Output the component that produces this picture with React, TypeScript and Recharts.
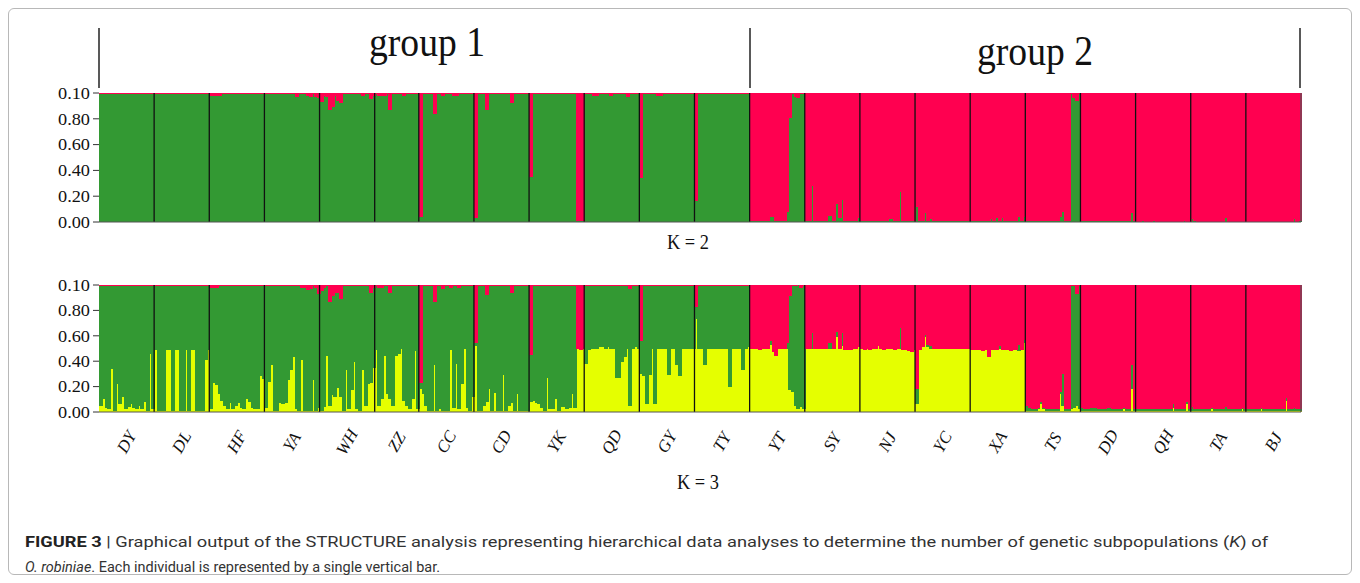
import React from "react";
import { BarChart, Bar, XAxis, YAxis, ReferenceLine } from "recharts";

// ─── DATA ──────────────────────────────────────────────────────────────────
const populations = [
  "DY", "DL", "HF", "YA", "WH", "ZZ", "CC", "CD", "YK", "QD", "GY",
  "TY", "YT", "SY", "NJ", "YC", "XA", "TS", "DD", "QH", "TA", "BJ",
];
const yTicks = [0, 0.2, 0.4, 0.6, 0.8, 1];
const yTickLabels = ["0.00", "0.20", "0.40", "0.60", "0.80", "0.10"];

// K = 2 : red share of each individual (green is the rest)
const k2Red: number[][] = [
  [0.01,0.01,0.01,0.01,0.01,0.01,0.01,0.01,0.01,0.01,0.01,0.01,0.01,0.01,0.01,0.01,0.01,0.01,0.01,0.01],
  [0.01,0.01,0.01,0.01,0.01,0.01,0.01,0.01,0.01,0.01,0.01,0.01,0.01,0.01,0.01,0.01,0.01,0.01,0.01,0.01],
  [0.02,0.02,0.02,0.02,0.01,0.01,0.01,0.01,0.01,0.01,0.01,0.01,0.01,0.01,0.01,0.01,0.01,0.01,0.01,0.01],
  [0.01,0.01,0.01,0.01,0.01,0.01,0.01,0.01,0.01,0.01,0.01,0.03,0.01,0.01,0.01,0.02,0.03,0.01,0.03,0.04],
  [0.07,0.02,0.03,0.13,0.11,0.02,0.06,0.08,0.01,0.01,0.01,0.01,0.01,0.01,0.01,0.02,0.01,0.01,0.05,0.02],
  [0.01,0.02,0.02,0.02,0.01,0.13,0.01,0.01,0.01,0.01,0.02,0.01,0.01,0.01,0.01,0.01],
  [0.96,0.01,0.01,0.01,0.01,0.16,0.01,0.01,0.02,0.01,0.01,0.01,0.02,0.02,0.01,0.01,0.01,0.01,0.01,0.01],
  [0.97,0.01,0.01,0.01,0.13,0.01,0.01,0.01,0.01,0.01,0.01,0.01,0.01,0.08,0.01,0.01,0.01,0.01,0.01,0.01],
  [0.65,0.01,0.01,0.01,0.01,0.01,0.01,0.01,0.01,0.01,0.01,0.01,0.01,0.01,0.01,0.01,0.01,0.99,0.99,0.99],
  [0.01,0.01,0.01,0.02,0.02,0.01,0.01,0.01,0.01,0.02,0.01,0.01,0.01,0.01,0.01,0.03,0.01,0.01,0.01,0.01],
  [0.66,0.01,0.01,0.01,0.01,0.01,0.02,0.02,0.01,0.01,0.01,0.01,0.01,0.01,0.01,0.01,0.01,0.01,0.01,0.01],
  [0.84,0.01,0.01,0.01,0.01,0.01,0.01,0.01,0.01,0.01,0.01,0.01,0.01,0.01,0.01,0.01,0.01,0.01,0.01,0.01],
  [0.99,0.99,0.99,0.99,0.99,0.99,0.99,0.96,0.96,0.99,0.99,0.99,0.99,0.92,0.19,0.01,0.03,0.04,0.01,0.01],
  [0.99,0.99,0.72,0.99,0.99,0.99,0.99,0.99,0.95,0.95,0.99,0.86,0.97,0.83,0.99,0.99,0.99,0.99,0.99,0.97],
  [0.99,0.99,0.99,0.99,0.99,0.99,0.99,0.99,0.99,0.99,0.98,0.98,0.99,0.99,0.77,0.99,0.99,0.99,0.99,0.99],
  [0.88,0.99,0.99,0.93,0.99,0.98,0.99,0.99,0.99,0.99,0.99,0.99,0.99,0.99,0.99,0.99,0.99,0.99,0.99,0.99],
  [0.99,0.99,0.99,0.99,0.99,0.99,0.99,0.98,0.99,0.97,0.99,0.97,0.99,0.99,0.99,0.99,0.99,0.96,0.99,0.96],
  [0.99,0.99,0.99,0.99,0.99,0.99,0.99,0.99,0.99,0.99,0.99,0.99,0.96,0.92,0.99,0.99,0.01,0.04,0.06,0.01],
  [0.99,0.99,0.99,0.99,0.99,0.99,0.99,0.99,0.99,0.99,0.99,0.99,0.99,0.99,0.99,0.99,0.99,0.99,0.93,0.99],
  [1.00,1.00,0.99,1.00,1.00,1.00,0.99,1.00,1.00,1.00,1.00,1.00,1.00,1.00,1.00,1.00,1.00,0.99,1.00,1.00],
  [0.98,0.99,1.00,1.00,1.00,1.00,1.00,1.00,1.00,1.00,1.00,1.00,0.97,1.00,1.00,1.00,1.00,1.00,1.00,1.00],
  [1.00,1.00,1.00,1.00,1.00,1.00,1.00,1.00,1.00,1.00,1.00,1.00,1.00,1.00,1.00,1.00,1.00,0.98,1.00,0.99],
];

// K = 3 : yellow share (bottom) and red share (top); green is the rest
const k3Yellow: number[][] = [
  [0.05,0.10,0.03,0.02,0.34,0.01,0.22,0.06,0.12,0.02,0.04,0.06,0.03,0.02,0.05,0.02,0.08,0.01,0.46,0.02],
  [0.49,0.01,0.01,0.01,0.49,0.49,0.01,0.49,0.49,0.01,0.01,0.49,0.01,0.49,0.49,0.01,0.01,0.01,0.41,0.49],
  [0.02,0.23,0.21,0.14,0.09,0.05,0.02,0.07,0.02,0.05,0.07,0.03,0.02,0.10,0.08,0.03,0.02,0.02,0.28,0.26],
  [0.03,0.24,0.37,0.01,0.01,0.07,0.06,0.07,0.25,0.33,0.43,0.02,0.01,0.41,0.01,0.01,0.01,0.25,0.01,0.03],
  [0.01,0.04,0.44,0.05,0.13,0.12,0.19,0.12,0.01,0.33,0.02,0.17,0.39,0.02,0.01,0.33,0.05,0.22,0.23,0.35],
  [0.49,0.05,0.10,0.44,0.14,0.10,0.05,0.44,0.46,0.50,0.09,0.05,0.02,0.10,0.48,0.02],
  [0.18,0.14,0.05,0.01,0.01,0.37,0.01,0.02,0.01,0.01,0.01,0.49,0.03,0.38,0.02,0.22,0.50,0.03,0.01,0.12],
  [0.52,0.01,0.01,0.05,0.08,0.18,0.01,0.15,0.01,0.01,0.29,0.01,0.05,0.07,0.01,0.14,0.01,0.01,0.01,0.01],
  [0.08,0.09,0.07,0.06,0.03,0.01,0.27,0.02,0.02,0.10,0.01,0.04,0.04,0.02,0.03,0.14,0.03,0.50,0.49,0.50],
  [0.38,0.49,0.50,0.50,0.50,0.51,0.51,0.50,0.51,0.50,0.50,0.27,0.27,0.39,0.43,0.50,0.05,0.50,0.51,0.50],
  [0.30,0.28,0.06,0.29,0.50,0.06,0.50,0.50,0.50,0.50,0.29,0.50,0.50,0.37,0.28,0.50,0.50,0.50,0.50,0.50],
  [0.73,0.50,0.50,0.37,0.50,0.50,0.50,0.50,0.50,0.50,0.50,0.50,0.20,0.50,0.50,0.50,0.50,0.33,0.50,0.51],
  [0.50,0.50,0.50,0.49,0.50,0.50,0.50,0.53,0.47,0.44,0.50,0.50,0.50,0.50,0.17,0.16,0.05,0.02,0.04,0.02],
  [0.50,0.50,0.50,0.50,0.50,0.50,0.50,0.50,0.50,0.50,0.50,0.59,0.50,0.52,0.49,0.49,0.49,0.50,0.50,0.51],
  [0.50,0.49,0.50,0.49,0.50,0.50,0.52,0.50,0.49,0.50,0.50,0.50,0.49,0.50,0.50,0.49,0.49,0.48,0.47,0.49],
  [0.06,0.49,0.51,0.59,0.51,0.50,0.50,0.50,0.50,0.50,0.50,0.50,0.50,0.50,0.50,0.50,0.50,0.50,0.50,0.50],
  [0.49,0.49,0.49,0.49,0.48,0.49,0.43,0.49,0.49,0.49,0.50,0.49,0.49,0.49,0.48,0.49,0.49,0.48,0.49,0.54],
  [0.01,0.01,0.01,0.01,0.02,0.06,0.02,0.01,0.01,0.01,0.01,0.01,0.14,0.05,0.01,0.01,0.02,0.03,0.05,0.02],
  [0.01,0.01,0.01,0.01,0.01,0.01,0.01,0.01,0.01,0.01,0.01,0.01,0.01,0.01,0.01,0.02,0.01,0.01,0.18,0.01],
  [0.01,0.01,0.01,0.01,0.01,0.01,0.01,0.01,0.01,0.01,0.01,0.01,0.01,0.03,0.01,0.01,0.01,0.01,0.06,0.01],
  [0.01,0.01,0.01,0.01,0.01,0.01,0.01,0.02,0.01,0.01,0.01,0.01,0.01,0.01,0.01,0.01,0.01,0.01,0.02,0.01],
  [0.01,0.01,0.01,0.01,0.01,0.02,0.01,0.01,0.01,0.01,0.01,0.01,0.01,0.01,0.09,0.01,0.01,0.01,0.01,0.01],
];

const k3Red: number[][] = [
  [0.01,0.01,0.01,0.01,0.01,0.01,0.01,0.01,0.01,0.01,0.01,0.01,0.01,0.01,0.01,0.01,0.01,0.01,0.01,0.01],
  [0.01,0.01,0.01,0.01,0.01,0.01,0.01,0.01,0.01,0.01,0.01,0.01,0.01,0.01,0.01,0.01,0.01,0.01,0.01,0.01],
  [0.02,0.02,0.02,0.01,0.01,0.01,0.01,0.01,0.01,0.01,0.01,0.01,0.01,0.01,0.01,0.01,0.01,0.01,0.01,0.01],
  [0.01,0.01,0.01,0.01,0.01,0.01,0.01,0.01,0.01,0.01,0.01,0.01,0.01,0.02,0.02,0.04,0.03,0.01,0.02,0.07],
  [0.05,0.02,0.01,0.13,0.09,0.06,0.06,0.11,0.01,0.01,0.01,0.01,0.01,0.01,0.01,0.01,0.01,0.01,0.06,0.02],
  [0.01,0.02,0.02,0.01,0.01,0.06,0.01,0.01,0.01,0.01,0.01,0.01,0.01,0.01,0.01,0.01],
  [0.77,0.01,0.01,0.01,0.01,0.13,0.01,0.01,0.03,0.01,0.01,0.02,0.01,0.01,0.02,0.01,0.01,0.01,0.01,0.01],
  [0.46,0.01,0.01,0.01,0.08,0.01,0.01,0.01,0.01,0.01,0.01,0.01,0.01,0.06,0.01,0.01,0.01,0.01,0.01,0.01],
  [0.55,0.01,0.01,0.01,0.01,0.01,0.01,0.01,0.01,0.01,0.01,0.01,0.01,0.01,0.01,0.01,0.01,0.50,0.51,0.50],
  [0.01,0.01,0.01,0.01,0.01,0.01,0.01,0.01,0.01,0.01,0.01,0.01,0.01,0.01,0.01,0.01,0.03,0.01,0.01,0.01],
  [0.44,0.01,0.01,0.01,0.01,0.01,0.01,0.01,0.01,0.01,0.01,0.01,0.01,0.01,0.01,0.01,0.01,0.01,0.01,0.01],
  [0.17,0.01,0.01,0.01,0.01,0.01,0.01,0.01,0.01,0.01,0.01,0.01,0.01,0.01,0.01,0.01,0.01,0.01,0.01,0.01],
  [0.50,0.50,0.50,0.51,0.50,0.50,0.50,0.44,0.53,0.56,0.50,0.50,0.50,0.46,0.09,0.01,0.01,0.00,0.02,0.01],
  [0.50,0.50,0.38,0.50,0.50,0.50,0.50,0.50,0.46,0.46,0.50,0.37,0.50,0.38,0.51,0.51,0.51,0.50,0.50,0.49],
  [0.50,0.51,0.50,0.51,0.50,0.50,0.48,0.50,0.51,0.50,0.50,0.50,0.51,0.50,0.34,0.51,0.51,0.52,0.53,0.51],
  [0.82,0.51,0.49,0.39,0.47,0.48,0.50,0.50,0.50,0.50,0.50,0.50,0.50,0.50,0.50,0.50,0.50,0.50,0.50,0.50],
  [0.51,0.51,0.51,0.51,0.52,0.51,0.57,0.51,0.51,0.51,0.48,0.51,0.51,0.51,0.52,0.51,0.51,0.47,0.51,0.43],
  [0.95,0.97,0.98,0.98,0.97,0.92,0.97,0.98,0.98,0.98,0.98,0.98,0.84,0.70,0.98,0.98,0.01,0.01,0.07,0.01],
  [0.97,0.98,0.98,0.97,0.97,0.97,0.98,0.98,0.98,0.97,0.97,0.98,0.98,0.98,0.98,0.97,0.98,0.98,0.63,0.98],
  [0.98,0.98,0.98,0.98,0.98,0.98,0.98,0.98,0.98,0.98,0.98,0.98,0.98,0.94,0.98,0.98,0.98,0.98,0.92,0.98],
  [0.96,0.98,0.98,0.98,0.98,0.98,0.98,0.97,0.98,0.98,0.98,0.98,0.96,0.98,0.98,0.98,0.98,0.98,0.97,0.98],
  [0.98,0.98,0.98,0.98,0.98,0.97,0.98,0.98,0.98,0.98,0.98,0.98,0.98,0.98,0.89,0.98,0.98,0.97,0.98,0.98],
];

// ─── LAYOUT / STYLE ────────────────────────────────────────────────────────
const GREEN = "#339933";
const RED = "#ff0050";
const YELLOW = "#e5ff00";
const SERIF = "'Liberation Serif', 'Times New Roman', serif";
const SANS = "Roboto, 'Liberation Sans', sans-serif";

const BOX_W = 1344;
const BOX_H = 567;
const PLOT_LEFT = 91;
const PLOT_RIGHT = 1293;
const TOP_PAD = 12;

// population boundaries, in individuals
const sizes = k2Red.map((p) => p.length);
const starts = sizes.reduce<number[]>((acc, n, i) => [...acc, acc[i] + n], [0]);
const total = starts[starts.length - 1];
const centers = sizes.map((n, i) => starts[i] + n / 2);

const k2Rows = k2Red.flatMap((pop, p) =>
  pop.map((r, j) => ({
    id: `${populations[p]}-${j + 1}`,
    pos: starts[p] + j + 0.5,
    green: Math.max(0, 1 - r),
    red: r,
  }))
);

const k3Rows = k3Yellow.flatMap((pop, p) =>
  pop.map((y, j) => ({
    id: `${populations[p]}-${j + 1}`,
    pos: starts[p] + j + 0.5,
    yellow: y,
    green: Math.max(0, 1 - y - k3Red[p][j]),
    red: k3Red[p][j],
  }))
);

// bars get floored to whole pixels, so widen each one to close the seams
const Slab = (props: any) => {
  const { x, y, width, height, fill } = props;
  if (!height || height <= 0) return null;
  return (
    <rect
      x={x}
      y={y}
      width={width + 1}
      height={height}
      fill={fill}
      shapeRendering="crispEdges"
    />
  );
};

const YTick = ({ x, y, payload }: any) => (
  <text
    x={x}
    y={y}
    dy="0.36em"
    textAnchor="end"
    fontFamily={SERIF}
    fontSize={16}
    textLength={32}
    lengthAdjust="spacingAndGlyphs"
    fill="#111"
  >
    {yTickLabels[Math.round(payload.value * 5)]}
  </text>
);

const PopTick = ({ x, y, payload }: any) => {
  const name = populations[centers.indexOf(payload.value)] ?? "";
  return (
    <g transform={`translate(${x},${y + 22})`}>
      <text
        transform="rotate(-60)"
        textAnchor="middle"
        dominantBaseline="central"
        fontFamily={SERIF}
        fontStyle="italic"
        fontSize={17}
        fill="#111"
      >
        {name}
      </text>
    </g>
  );
};

interface PanelProps {
  rows: any[];
  series: { key: string; color: string }[];
  top: number;
  plotHeight: number;
  axisHeight: number;
  labels: boolean;
}

function Panel({ rows, series, top, plotHeight, axisHeight, labels }: PanelProps) {
  return (
    <div style={{ position: "absolute", left: 0, top }}>
      <BarChart
        width={BOX_W}
        height={TOP_PAD + plotHeight + axisHeight}
        data={rows}
        margin={{ top: TOP_PAD, right: BOX_W - PLOT_RIGHT, bottom: 0, left: 0 }}
        barCategoryGap={0}
        barGap={0}
      >
        <XAxis
          xAxisId="pop"
          dataKey="pos"
          type="number"
          domain={[0, total]}
          ticks={centers}
          interval={0}
          allowDataOverflow
          height={axisHeight}
          axisLine={{ stroke: "#555", strokeWidth: 1 }}
          tickLine={false}
          tick={labels ? <PopTick /> : false}
        />
        <XAxis xAxisId="ind" dataKey="id" hide height={0} />
        <YAxis
          type="number"
          domain={[0, 1]}
          ticks={yTicks}
          interval={0}
          allowDataOverflow
          width={PLOT_LEFT}
          axisLine={false}
          tickSize={6}
          tickMargin={3}
          tickLine={{ stroke: "#333" }}
          tick={<YTick />}
        />
        {series.map((s) => (
          <Bar
            key={s.key}
            xAxisId="ind"
            dataKey={s.key}
            stackId="q"
            fill={s.color}
            shape={<Slab />}
            isAnimationActive={false}
          />
        ))}
        {starts.slice(1, -1).map((b) => (
          <ReferenceLine
            key={b}
            xAxisId="pop"
            x={b}
            stroke="#111"
            strokeWidth={1.3}
          />
        ))}
        <ReferenceLine xAxisId="pop" x={total} stroke="#555" strokeWidth={1.3} />
      </BarChart>
    </div>
  );
}

export default function App() {
  return (
    <div style={{ position: "relative", width: BOX_W, height: BOX_H, background: "#fff" }}>
      <div
        style={{
          position: "absolute",
          inset: 0,
          border: "1px solid #b8b8b8",
          borderRadius: 6,
          boxSizing: "border-box",
          pointerEvents: "none",
        }}
      />
      <svg
        width={BOX_W}
        height={BOX_H}
        style={{ position: "absolute", left: 0, top: 0 }}
      >
        {/* group brackets */}
        {[91, 742, 1292].map((x) => (
          <line key={x} x1={x} x2={x} y1={20} y2={80} stroke="#222" strokeWidth={1.5} />
        ))}
        <text x={419} y={48} textAnchor="middle" fontFamily={SERIF} fontSize={42} textLength={116} lengthAdjust="spacingAndGlyphs" fill="#111">
          group 1
        </text>
        <text x={1027} y={57} textAnchor="middle" fontFamily={SERIF} fontSize={42} textLength={116} lengthAdjust="spacingAndGlyphs" fill="#111">
          group 2
        </text>
        <text x={680} y={241} textAnchor="middle" fontFamily={SERIF} fontSize={22} textLength={42} lengthAdjust="spacingAndGlyphs" fill="#111">
          K = 2
        </text>
        <text x={690} y={481} textAnchor="middle" fontFamily={SERIF} fontSize={22} textLength={42} lengthAdjust="spacingAndGlyphs" fill="#111">
          K = 3
        </text>
        {/* caption */}
        <text x={17} y={539} fontFamily={SANS} fontSize={15.5} fill="#333" textLength={1243} lengthAdjust="spacingAndGlyphs">
          <tspan fontWeight="bold" fill="#222">FIGURE 3</tspan>
          <tspan> | Graphical output of the STRUCTURE analysis representing hierarchical data analyses to determine the number of genetic subpopulations (</tspan>
          <tspan fontStyle="italic">K</tspan>
          <tspan>) of</tspan>
        </text>
        <text x={17} y={564} fontFamily={SANS} fontSize={15.5} fill="#333" textLength={415} lengthAdjust="spacingAndGlyphs">
          <tspan fontStyle="italic">O. robiniae</tspan>
          <tspan>. Each individual is represented by a single vertical bar.</tspan>
        </text>
      </svg>
      <Panel
        rows={k2Rows}
        series={[
          { key: "green", color: GREEN },
          { key: "red", color: RED },
        ]}
        top={84.5 - TOP_PAD}
        plotHeight={129}
        axisHeight={12}
        labels={false}
      />
      <Panel
        rows={k3Rows}
        series={[
          { key: "yellow", color: YELLOW },
          { key: "green", color: GREEN },
          { key: "red", color: RED },
        ]}
        top={277.3 - TOP_PAD}
        plotHeight={127}
        axisHeight={52}
        labels
      />
    </div>
  );
}
